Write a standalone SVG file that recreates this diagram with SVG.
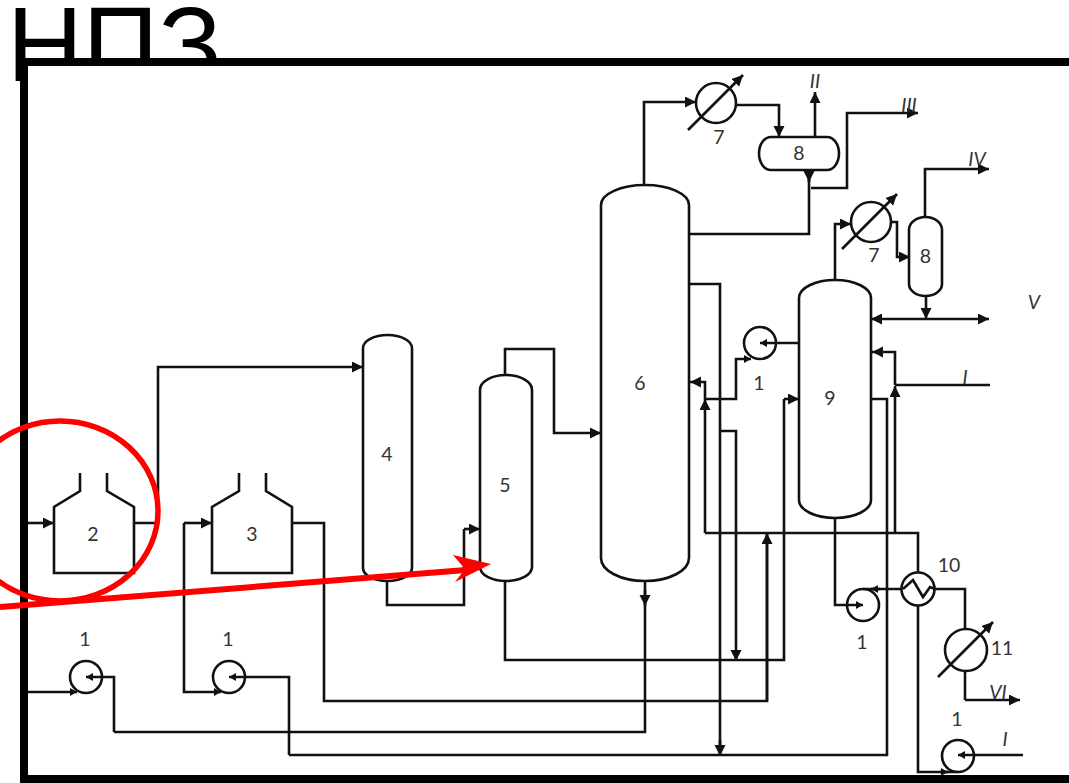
<svg xmlns="http://www.w3.org/2000/svg" width="1069" height="783" viewBox="0 0 1069 783">
<style>
.l{fill:none;stroke:#111;stroke-width:2.6;stroke-linejoin:miter}
.n{fill:none;stroke:#111;stroke-width:2.6}
.t{font-family:Lato,"Open Sans",sans-serif;font-size:19.500px;fill:#333;text-anchor:middle}
.i{font-family:Lato,"Open Sans",sans-serif;font-size:19.500px;font-style:italic;fill:#333;text-anchor:middle}
.a{marker-end:url(#ah)}
.s{marker-end:url(#as)}
</style>
<defs>
<marker id="ah" markerUnits="userSpaceOnUse" markerWidth="12" markerHeight="12" refX="11" refY="5.500" orient="auto"><path d="M0 0L11 5.500L0 11Z" fill="#111"/></marker>
<marker id="as" markerUnits="userSpaceOnUse" markerWidth="8" markerHeight="8" refX="7" refY="4" orient="auto"><path d="M0 0L7 4L0 8Z" fill="#111"/></marker>
<marker id="ab" markerUnits="userSpaceOnUse" markerWidth="12" markerHeight="12" refX="0" refY="5.500" orient="auto"><path d="M11 0L0 5.500L11 11Z" fill="#111"/></marker>
</defs>
<text x="7" y="81" font-family="Liberation Sans,sans-serif" font-size="105" fill="#000">НПЗ</text>
<rect id="frame" x="24" y="62" width="1060" height="717" fill="#fff" stroke="#000" stroke-width="8"/>
<g id="connectors">
<path class="l a" d="M28 523H54"/>
<path class="l a" d="M134 523H158V367H363"/>
<path class="l a" d="M184 523H212"/>
<path class="l" d="M293 523H324V701H767V533"/>
<path class="l a" d="M767 701V533"/>
<path class="l s" d="M28 692H77"/>
<path class="l s" d="M184 523V692H221"/>
<path class="l s" d="M114 732V677H86"/>
<path class="l" d="M114 732H645V581"/>
<path class="l a" d="M645 590V606"/>
<path class="l s" d="M289 755V677H229"/>
<path class="l" d="M289 755H887V399H871"/>
<path class="l" d="M689 284H720V755"/>
<path class="l a" d="M720 740V756"/>
<path class="l a" d="M720 431H736V661"/>
<path class="l" d="M505 581V660H784V399"/>
<path class="l a" d="M784 399H799"/>
<path class="l" d="M387 581V605H464V529"/>
<path class="l a" d="M464 529H480"/>
<path class="l a" d="M505 375V349H554V433H601"/>
<path class="l a" d="M644 185V102H696"/>
<path class="l a" d="M736 105H779V137"/>
<path class="l a" d="M815 137V92"/>
<path class="l" d="M689 234H809V170"/>
<path class="l a" d="M809 170V182"/>
<path class="l a" d="M811 188H847V113H918"/>
<path class="l a" d="M835 281V224H851"/>
<path class="l a" d="M891 222H897V257H910"/>
<path class="l a" d="M925 217V169H989"/>
<path class="l a" d="M926 296V319"/>
<path class="l a" d="M871 319H989" style="marker-start:url(#ab)"/>
<path class="l s" d="M799 343H760"/>
<path class="l s" d="M705 399H736V359H751"/>
<path class="l a" d="M705 533V399"/>
<path class="l a" d="M705 399V382H690"/>
<path class="l" d="M705 533H918V573"/>
<path class="l a" d="M895 533V386"/>
<path class="l a" d="M895 385V352H872"/>
<path class="l" d="M895 385H990"/>
<path class="l s" d="M835 518V605H863"/>
<path class="l" d="M902 589H863"/>
<path class="l s" d="M880 589H871"/>
<path class="l" d="M935 589H965V629"/>
<path class="l" d="M965 671V700"/>
<path class="l a" d="M965 700H1020"/>
<path class="l" d="M918 606V772H958"/>
<path class="l s" d="M1023 755H958"/>
<path class="l s" d="M940 772H948"/>
</g>
<g id="furnace-2"><path class="n" d="M80 473V491L54 507V573H134V507L107 491V473"/><text class="t" x="93" y="541">2</text></g>
<g id="furnace-3"><path class="n" d="M239 473V491L212 507V573H292V507L266 491V473"/><text class="t" x="252" y="541">3</text></g>
<g id="pump-1a"><circle class="n" cx="86" cy="677" r="16"/><text class="t" x="85" y="646">1</text></g>
<g id="pump-1b"><circle class="n" cx="229" cy="677" r="16"/><text class="t" x="228" y="646">1</text></g>
<g id="column-4"><path class="n" d="M363 348A24.500 13 0 0 1 412 348V568A24.500 13 0 0 1 363 568Z"/><text class="t" x="387" y="461">4</text></g>
<g id="column-5"><path class="n" d="M480 390A26 15 0 0 1 532 390V567A26 14 0 0 1 480 567Z"/><text class="t" x="505" y="492">5</text></g>
<g id="column-6"><path class="n" d="M601 205A44 20 0 0 1 689 205V558A44 23 0 0 1 601 558Z"/><text class="t" x="640" y="390">6</text></g>
<g id="cooler-7a"><circle class="n" cx="716" cy="103" r="20"/><path class="l a" d="M688 130L743 75"/><text class="t" x="719" y="144">7</text></g>
<g id="drum-8a"><path class="n" d="M771 137H827A12 16.500 0 0 1 827 170H771A12 16.500 0 0 1 771 137Z"/><text class="t" x="799" y="160">8</text></g>
<g id="cooler-7b"><circle class="n" cx="871" cy="222" r="20"/><path class="l a" d="M842 249L897 194"/><text class="t" x="874" y="262">7</text></g>
<g id="vessel-8b"><path class="n" d="M909 230A16.500 13 0 0 1 942 230V284A16.500 12 0 0 1 909 284Z"/><text class="t" x="925.500" y="263">8</text></g>
<g id="column-9"><path class="n" d="M799 298A36 18 0 0 1 871 298V500A36 18 0 0 1 799 500Z"/><text class="t" x="830" y="405">9</text></g>
<g id="pump-1c"><circle class="n" cx="760" cy="343" r="16"/><text class="t" x="759" y="390">1</text></g>
<g id="pump-1d"><circle class="n" cx="863" cy="605" r="16"/><text class="t" x="862" y="649">1</text></g>
<g id="exchanger-10"><circle class="n" cx="918" cy="589" r="16.500"/><path class="n" d="M903 589L913 580L923 597L930 587L935 589"/><text class="t" x="949" y="572">10</text></g>
<g id="cooler-11"><circle class="n" cx="966" cy="650" r="21"/><path class="l a" d="M938 677L993 622"/><text class="t" x="1002" y="655">11</text></g>
<g id="pump-1e"><circle class="n" cx="958" cy="756" r="16"/><text class="t" x="957" y="726">1</text></g>
<g id="labels">
<text class="i" x="815" y="88">II</text>
<text class="i" x="909" y="112">III</text>
<text class="i" x="977" y="166">IV</text>
<text class="i" x="1034" y="309">V</text>
<text class="i" x="965" y="384">I</text>
<text class="i" x="998" y="699">VI</text>
<text class="i" x="1005" y="746">I</text>
</g>
<g id="annotation">
<ellipse cx="60" cy="511" rx="98" ry="90" fill="none" stroke="#f00" stroke-width="5.500"/>
<path d="M0 607L466 570" fill="none" stroke="#f00" stroke-width="6"/>
<path d="M491 564L453 555L465 569L455 582Z" fill="#f00"/>
</g>
</svg>
